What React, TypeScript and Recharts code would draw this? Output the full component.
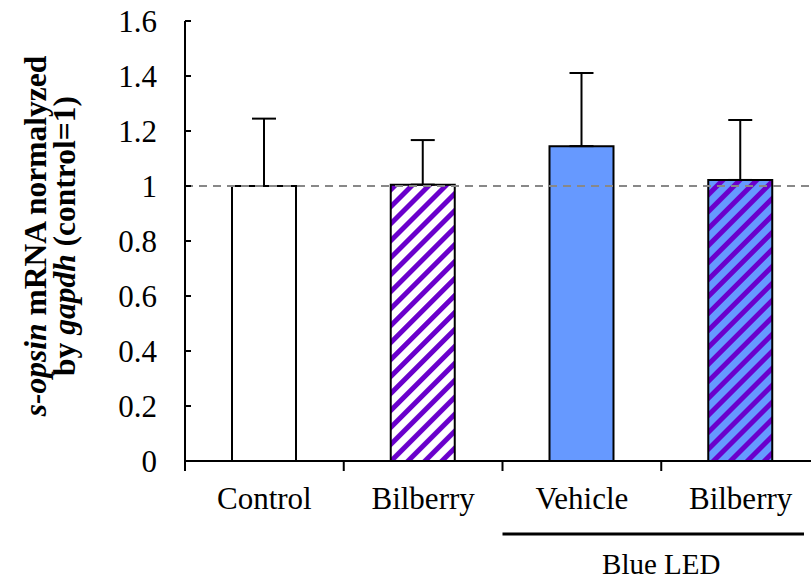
import React from 'react';
import { Bar, BarChart, Cell, ErrorBar, ReferenceLine, XAxis, YAxis } from 'recharts';

const categories = ['Control', 'Bilberry', 'Vehicle', 'Bilberry'];
const means = [1.0, 1.005, 1.145, 1.022];
const sdUpper = [0.245, 0.162, 0.266, 0.218];
const yTicks = [0, 0.2, 0.4, 0.6, 0.8, 1, 1.2, 1.4, 1.6];
const groupLabel = 'Blue LED';

const FONT = '"Liberation Serif", "Times New Roman", serif';
const PURPLE = '#6a00cc';
const BLUE = '#6699ff';

const fills = ['#ffffff', 'url(#hatchWhite)', BLUE, 'url(#hatchBlue)'];

const data = categories.map((name, i) => ({
  name,
  value: means[i],
  err: [0, sdUpper[i]],
}));

function YTick(props: any) {
  const { x, y, payload } = props;
  return (
    <g>
      <line x1={x} x2={x + 6} y1={y} y2={y} stroke="#000" strokeWidth={2} />
      <text x={x - 28} y={y} dy="0.35em" textAnchor="end" fontFamily={FONT} fontSize={31} fill="#000">
        {payload.value}
      </text>
    </g>
  );
}

function XTick(props: any) {
  const { x, y, payload, index } = props;
  const off = payload?.offset || 79.4;
  return (
    <g>
      <line x1={x - off} x2={x - off} y1={y} y2={y + 10} stroke="#000" strokeWidth={2} />
      <text x={x} y={y + 48} textAnchor="middle" fontFamily={FONT} fontSize={31} fill="#000">
        {payload.value}
      </text>
      {index === categories.length - 1 && (
        <>
          <line x1={x - 3 * off} x2={x + off - 16} y1={y + 73} y2={y + 73} stroke="#000" strokeWidth={3} />
          <text x={x - off} y={y + 113} textAnchor="middle" fontFamily={FONT} fontSize={29} fill="#000">
            {groupLabel}
          </text>
        </>
      )}
    </g>
  );
}

function YLabel() {
  const cy = 236;
  return (
    <g fontFamily={FONT} fontWeight="bold" fontSize={31.5} fill="#000">
      <text x={46} y={cy} textAnchor="middle" transform={`rotate(-90, 46, ${cy})`}>
        <tspan fontStyle="italic">s-opsin</tspan>
        <tspan> mRNA normalyzed</tspan>
      </text>
      <text x={75} y={cy} textAnchor="middle" transform={`rotate(-90, 75, ${cy})`}>
        <tspan>by </tspan>
        <tspan fontStyle="italic">gapdh</tspan>
        <tspan> (control=1)</tspan>
      </text>
    </g>
  );
}

export default function App() {
  return (
    <div style={{ position: 'absolute', left: 0, top: 0, width: 811, height: 582, overflow: 'hidden', background: '#fff' }}>
      <BarChart
        width={830}
        height={582}
        data={data}
        margin={{ top: 21, right: 10, bottom: 0, left: 0 }}
        barSize={64}
      >
        <defs>
          <pattern id="hatchWhite" width="12" height="12" patternUnits="userSpaceOnUse" patternTransform="rotate(45)">
            <rect width="12" height="12" fill="#ffffff" />
            <rect width="5" height="12" fill={PURPLE} />
          </pattern>
          <pattern id="hatchBlue" width="12" height="12" patternUnits="userSpaceOnUse" patternTransform="rotate(45)">
            <rect width="12" height="12" fill={BLUE} />
            <rect width="5" height="12" fill={PURPLE} />
          </pattern>
        </defs>
        <XAxis
          dataKey="name"
          height={121}
          interval={0}
          tickLine={false}
          tickSize={0}
          tickMargin={0}
          axisLine={{ stroke: '#000', strokeWidth: 2 }}
          tick={<XTick />}
        />
        <YAxis
          width={185}
          domain={[0, 1.6]}
          ticks={yTicks}
          interval={0}
          tickLine={false}
          tickSize={0}
          tickMargin={0}
          axisLine={{ stroke: '#000', strokeWidth: 2 }}
          tick={<YTick />}
          label={{ content: <YLabel /> }}
        />
        <Bar dataKey="value" stroke="#000" strokeWidth={2} isAnimationActive={false}>
          {data.map((d, i) => (
            <Cell key={i} fill={fills[i]} />
          ))}
          <ErrorBar dataKey="err" direction="y" width={12} stroke="#000" strokeWidth={2} isAnimationActive={false} />
        </Bar>
        <ReferenceLine y={1} stroke="#888" strokeWidth={2} strokeDasharray="8 6" />
      </BarChart>
    </div>
  );
}
